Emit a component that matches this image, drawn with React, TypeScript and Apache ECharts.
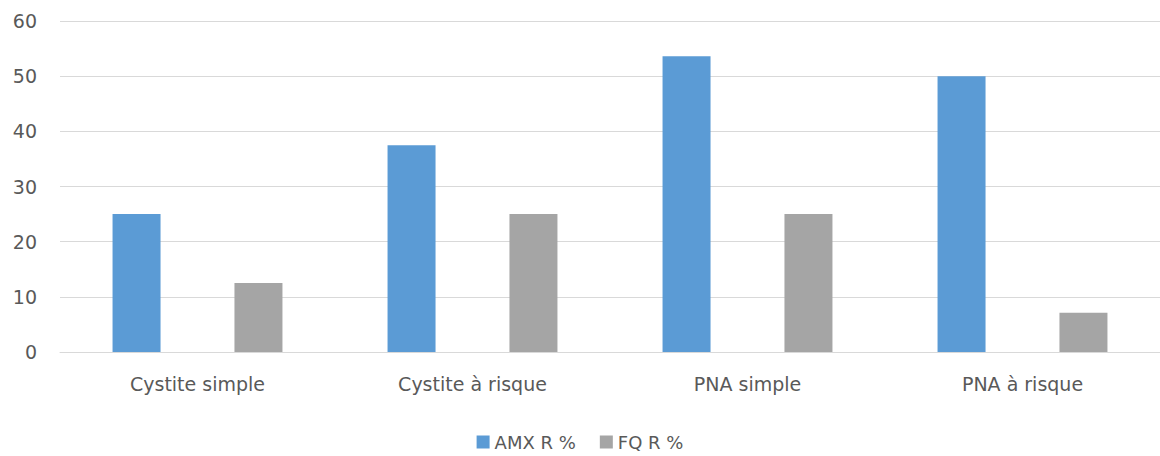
import React, { useEffect, useRef } from "react";
import * as echarts from "echarts";

const categories = ["Cystite simple", "Cystite à risque", "PNA simple", "PNA à risque"];
const amxValues = [25, 37.5, 53.6, 50];
const fqValues = [12.5, 25, 25, 7.1];
const seriesNames = ["AMX R %", "FQ R %"];

export default function App() {
  const ref = useRef<HTMLDivElement>(null);
  useEffect(() => {
    if (!ref.current) return;
    const chart = echarts.init(ref.current, null, { renderer: "svg" });
    const font = "DejaVu Sans";
    chart.setOption({
      animation: false,
      backgroundColor: "#ffffff",
      grid: { left: 60, right: 0, top: 21, bottom: 104 },
      legend: {
        top: 428,
        left: "center",
        itemWidth: 13,
        itemHeight: 13,
        itemGap: 24,
        icon: "rect",
        textStyle: { fontFamily: font, fontSize: 18, color: "#595959" },
        data: seriesNames,
      },
      xAxis: {
        type: "category",
        data: categories,
        axisLine: { lineStyle: { color: "#D9D9D9" } },
        axisTick: { show: false },
        axisLabel: { fontFamily: font, fontSize: 19, color: "#595959", margin: 22 },
      },
      yAxis: {
        type: "value",
        min: 0,
        max: 60,
        interval: 10,
        axisLine: { show: false },
        axisTick: { show: false },
        splitLine: { lineStyle: { color: "#D9D9D9" } },
        axisLabel: { fontFamily: font, fontSize: 19, color: "#595959", margin: 23 },
      },
      series: [
        {
          name: seriesNames[0],
          type: "bar",
          data: amxValues,
          barWidth: 48,
          barGap: "154%",
          itemStyle: { color: "#5B9BD5" },
        },
        {
          name: seriesNames[1],
          type: "bar",
          data: fqValues,
          barWidth: 48,
          itemStyle: { color: "#A5A5A5" },
        },
      ],
    });
    return () => chart.dispose();
  }, []);
  return (
    <div
      ref={ref}
      style={{ position: "fixed", left: 0, top: 0, width: 1160, height: 456 }}
    />
  );
}
